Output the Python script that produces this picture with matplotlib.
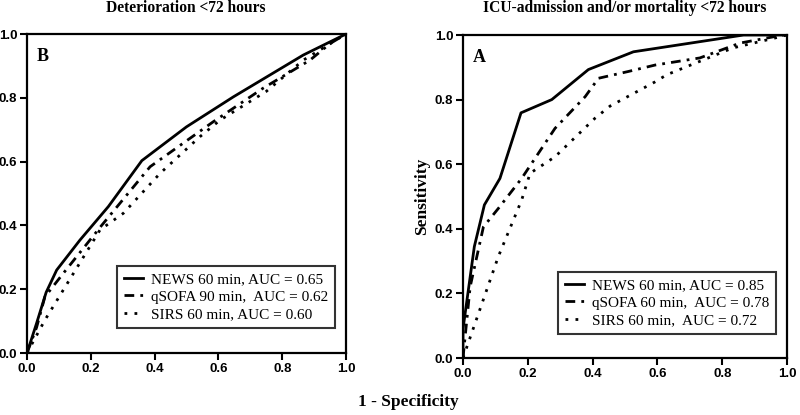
import numpy as np
import matplotlib
matplotlib.use('Agg')
import matplotlib.pyplot as plt

# ROC curve points (x = 1 - specificity, y = sensitivity)
# Panel B: deterioration <72 hours
news_b_x = [0.0, 0.03, 0.06, 0.093, 0.166, 0.255, 0.36, 0.5, 0.647, 0.866, 1.0]
news_b_y = [0.0, 0.093, 0.19, 0.26, 0.354, 0.459, 0.603, 0.709, 0.803, 0.934, 1.0]
qsofa_b_x = [0.0, 0.03, 0.056, 0.114, 0.234, 0.386, 0.584, 0.74, 0.887, 0.95, 1.0]
qsofa_b_y = [0.0, 0.08, 0.176, 0.25, 0.40, 0.584, 0.725, 0.83, 0.918, 0.97, 1.0]
sirs_b_x = [0.0, 0.056, 0.103, 0.229, 0.302, 0.417, 0.542, 0.605, 0.75, 0.866, 1.0]
sirs_b_y = [0.0, 0.103, 0.18, 0.386, 0.438, 0.563, 0.678, 0.73, 0.82, 0.918, 1.0]

# Panel A: ICU-admission and/or mortality <72 hours
news_a_x = [0.0, 0.0, 0.035, 0.066, 0.114, 0.179, 0.274, 0.387, 0.526, 0.866, 1.0]
news_a_y = [0.0, 0.09, 0.345, 0.474, 0.556, 0.759, 0.80, 0.893, 0.948, 1.0, 1.0]
qsofa_a_x = [0.0, 0.022, 0.063, 0.109, 0.181, 0.284, 0.377, 0.418, 0.51, 0.593, 0.731, 0.855, 0.988, 1.0]
qsofa_a_y = [0.0, 0.22, 0.406, 0.463, 0.556, 0.711, 0.809, 0.866, 0.887, 0.907, 0.929, 0.975, 1.0, 1.0]
sirs_a_x = [0.0, 0.109, 0.181, 0.207, 0.284, 0.407, 0.454, 0.593, 0.629, 0.833, 0.96, 1.0]
sirs_a_y = [0.0, 0.314, 0.489, 0.572, 0.623, 0.742, 0.78, 0.855, 0.877, 0.96, 0.99, 1.0]

labels_b = ['NEWS 60 min, AUC = 0.65', 'qSOFA 90 min,  AUC = 0.62', 'SIRS 60 min, AUC = 0.60']
labels_a = ['NEWS 60 min, AUC = 0.85', 'qSOFA 60 min,  AUC = 0.78', 'SIRS 60 min,  AUC = 0.72']
ticks = [0.0, 0.2, 0.4, 0.6, 0.8, 1.0]

serif = 'Liberation Serif'
sans = 'Liberation Sans'

W, H = 800, 415
fig = plt.figure(figsize=(8, 4.15), dpi=100)


def px_axes(x0, y0, x1, y1):
    # axes from pixel box (top-left origin)
    return fig.add_axes([x0 / W, (H - y1) / H, (x1 - x0) / W, (y1 - y0) / H])


styles = [
    dict(color='black', lw=2.0, ls='-'),
    dict(color='black', lw=2.0, ls=(0, (3.5, 2.2, 1, 2.2))),
    dict(color='black', lw=2.0, ls=(0, (1, 2.6))),
]


def draw(ax, xs, ys, labels, letter, title, tx, legend_anchor):
    for x, y, lab, st in zip(xs, ys, labels, styles):
        ax.plot(x, y, label=lab, **st)
    ax.set_xlim(0, 1)
    ax.set_ylim(0, 1)
    ax.set_xticks(ticks)
    ax.set_yticks(ticks)
    ax.set_xticklabels([f'{t:.1f}' for t in ticks])
    ax.set_yticklabels([f'{t:.1f}' for t in ticks])
    for s in ax.spines.values():
        s.set_linewidth(1.6)
    ax.tick_params(direction='out', length=5, width=1.5, pad=2)
    for lab in ax.get_xticklabels() + ax.get_yticklabels():
        lab.set_fontfamily(sans)
        lab.set_fontweight('bold')
        lab.set_fontsize(9.5)
    ax.text(0.03, 0.93, letter, transform=ax.transAxes, fontfamily=serif,
            fontweight='bold', fontsize=13, ha='left', va='center')
    leg = ax.legend(loc='lower right', bbox_to_anchor=legend_anchor,
                    bbox_transform=fig.transFigure, borderaxespad=0,
                    prop={'family': serif, 'size': 11}, frameon=True,
                    fancybox=False, handlelength=1.25, handletextpad=0.5,
                    labelspacing=0.25, borderpad=0.45)
    leg.get_frame().set_edgecolor('black')
    leg.get_frame().set_linewidth(1.5)
    fig.text(tx[0] / W, 1 - tx[1] / H, title, ha='center', va='center',
             fontfamily=serif, fontweight='bold', fontsize=11.2)


ax_b = px_axes(27, 34, 346, 353)
draw(ax_b, [news_b_x, qsofa_b_x, sirs_b_x], [news_b_y, qsofa_b_y, sirs_b_y],
     labels_b, 'B', 'Deterioration <72 hours', (186, 8),
     (335 / W, (H - 328) / H))

ax_a = px_axes(463, 35, 787, 358)
draw(ax_a, [news_a_x, qsofa_a_x, sirs_a_x], [news_a_y, qsofa_a_y, sirs_a_y],
     labels_a, 'A', 'ICU-admission and/or mortality <72 hours', (625, 8),
     (776 / W, (H - 334) / H))

ax_a.set_ylabel('Sensitivity', fontfamily=serif, fontweight='bold', fontsize=12.5, labelpad=3)
fig.text(408 / W, 1 - 402 / H, '1 - Specificity', ha='center', va='center',
         fontfamily=serif, fontweight='bold', fontsize=12.5)

fig.savefig('out.png', dpi=100)
